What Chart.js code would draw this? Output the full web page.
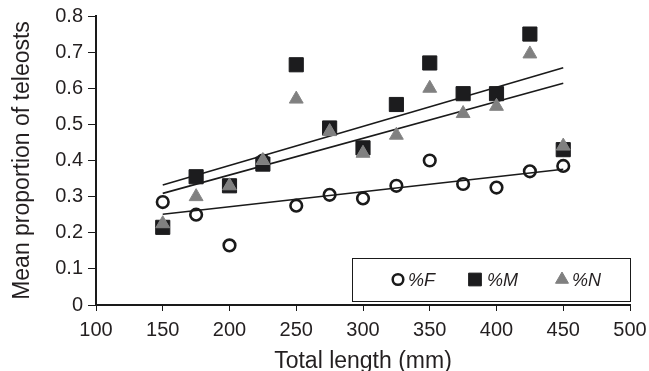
<!DOCTYPE html>
<html>
<head>
<meta charset="utf-8">
<script src="https://cdn.jsdelivr.net/npm/chart.js@4/dist/chart.umd.min.js"></script>
<style>
  html, body { margin: 0; padding: 0; background: #fff; }
  #wrap { width: 649px; height: 371px; }
</style>
</head>
<body>
<div id="wrap"><canvas id="chart" width="649" height="371"></canvas></div>
<script>
// total length classes (mm)
const lengths = [150, 175, 200, 225, 250, 275, 300, 325, 350, 375, 400, 425, 450];
// mean proportions
const pctF = [0.285, 0.25, 0.165, 0.40, 0.275, 0.305, 0.295, 0.33, 0.40, 0.335, 0.325, 0.37, 0.385];
const pctM = [0.215, 0.355, 0.33, 0.39, 0.665, 0.49, 0.435, 0.555, 0.67, 0.585, 0.585, 0.75, 0.43];
const pctN = [0.225, 0.30, 0.33, 0.40, 0.57, 0.48, 0.42, 0.47, 0.60, 0.53, 0.55, 0.695, 0.44];
// trend line end points
const fitRange = [150, 450];
const fitF = [0.251, 0.376];
const fitM = [0.332, 0.657];
const fitN = [0.309, 0.614];
const legendLabels = ['%F', '%M', '%N'];

const FONT = '"Liberation Sans", Arial, Helvetica, sans-serif';
const INK = '#231f20';
const pts = (xs, ys) => xs.map((x, i) => ({ x: x, y: ys[i] }));

function fitLine(ys) {
    return {
        type: 'line',
        data: pts(fitRange, ys),
        borderColor: '#1a1a1a',
        borderWidth: 1.6,
        pointRadius: 0,
        fill: false
    };
}

// legend box drawn inside the plot area
const legendBox = {
    id: 'legendBox',
    afterDraw(chart) {
        const ctx = chart.ctx;
        ctx.save();
        ctx.strokeStyle = '#1a1a1a';
        ctx.lineWidth = 1;
        ctx.fillStyle = '#fff';
        ctx.fillRect(352, 258, 279, 44);
        ctx.strokeRect(352.5, 258.5, 278, 43);
        const ys = 279.5;
        const items = [
            { mx: 398, tx: 408, style: 'circle', r: 5.3, fill: 'rgba(0,0,0,0)', stroke: '#1a1a1a', bw: 2.5 },
            { mx: 475, tx: 487, style: 'rect', r: 9, fill: '#1c1c1e', stroke: '#1c1c1e', bw: 1 },
            { mx: 562, tx: 572, style: 'triangle', r: 7.5, fill: '#808080', stroke: '#808080', bw: 1 }
        ];
        items.forEach((it, i) => {
            ctx.fillStyle = it.fill;
            ctx.strokeStyle = it.stroke;
            ctx.lineWidth = it.bw;
            Chart.helpers.drawPoint(ctx, { pointStyle: it.style, radius: it.r, rotation: 0, borderWidth: it.bw }, it.mx, ys);
            ctx.fillStyle = INK;
            ctx.font = 'italic 18px ' + FONT;
            ctx.textBaseline = 'alphabetic';
            ctx.fillText(legendLabels[i], it.tx, 286);
        });
        ctx.restore();
    }
};

new Chart(document.getElementById('chart'), {
    type: 'scatter',
    data: {
        datasets: [
            {
                label: legendLabels[2],
                data: pts(lengths, pctN),
                pointStyle: 'triangle',
                pointRadius: 8,
                backgroundColor: '#808080',
                borderColor: '#858585',
                borderWidth: 1
            },
            {
                label: legendLabels[1],
                data: pts(lengths, pctM),
                pointStyle: 'rect',
                pointRadius: 10,
                backgroundColor: '#1c1c1e',
                borderColor: '#1c1c1e',
                borderWidth: 1
            },
            {
                label: legendLabels[0],
                data: pts(lengths, pctF),
                pointStyle: 'circle',
                pointRadius: 5.8,
                backgroundColor: 'rgba(0,0,0,0)',
                borderColor: '#1a1a1a',
                borderWidth: 2.6
            },
            fitLine(fitM),
            fitLine(fitN),
            fitLine(fitF)
        ]
    },
    options: {
        responsive: false,
        animation: false,
        layout: { padding: { top: 16, right: 19, left: 0, bottom: 0 } },
        plugins: {
            legend: { display: false },
            tooltip: { enabled: false }
        },
        scales: {
            x: {
                type: 'linear',
                min: 100,
                max: 500,
                ticks: { stepSize: 50, color: INK, font: { family: FONT, size: 20 }, padding: 7 },
                grid: { drawOnChartArea: false, color: '#1a1a1a', lineWidth: 1, tickLength: 6 },
                border: { color: '#1a1a1a', width: 2 },
                title: { display: true, text: 'Total length (mm)', color: INK, font: { family: FONT, size: 23, lineHeight: 1 }, padding: { top: 0, bottom: -2 } },
                afterFit(scale) {
                    scale.height = 66;
                    scale.paddingLeft = 0;
                    scale.paddingRight = 0;
                }
            },
            y: {
                min: 0,
                max: 0.8,
                ticks: {
                    stepSize: 0.1,
                    color: INK,
                    font: { family: FONT, size: 20 },
                    padding: 5,
                    callback: v => v === 0 ? '0' : v.toFixed(1)
                },
                grid: { drawOnChartArea: false, color: '#1a1a1a', lineWidth: 1, tickLength: 8 },
                border: { color: '#1a1a1a', width: 2 },
                title: { display: true, text: 'Mean proportion of teleosts', color: INK, font: { family: FONT, size: 23, lineHeight: 1 }, padding: { top: 11, bottom: 0 } },
                afterFit(scale) {
                    scale.width = 96;
                    scale.paddingTop = 0;
                    scale.paddingBottom = 0;
                }
            }
        }
    },
    plugins: [legendBox]
});
</script>
</body>
</html>
